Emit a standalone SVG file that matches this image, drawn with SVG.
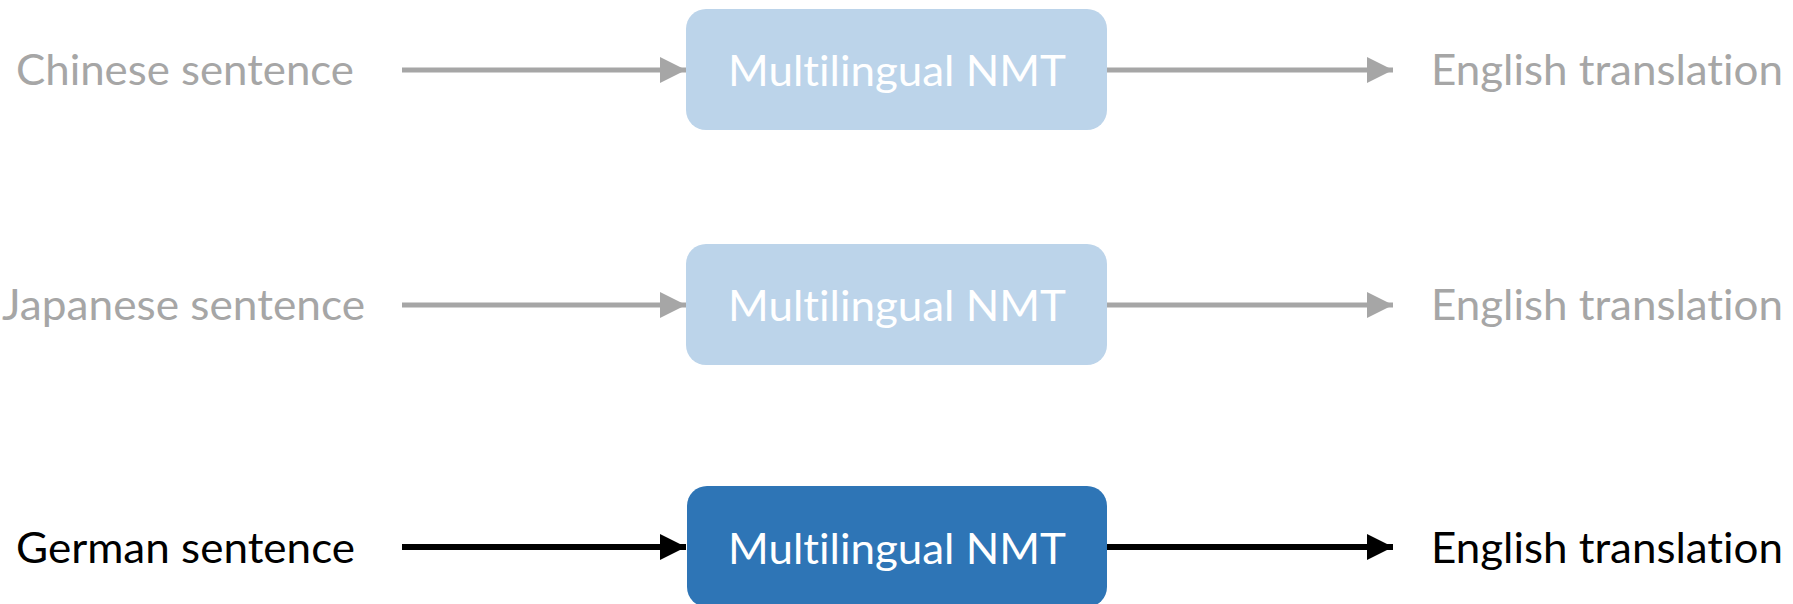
<svg xmlns="http://www.w3.org/2000/svg" width="1793" height="604" viewBox="0 0 1793 604">
  <defs>
    <style>
      .lbl { font-family: Lato, "Open Sans", "Liberation Sans", sans-serif; font-size: 43px; font-variant-ligatures: none; font-feature-settings: "liga" 0, "clig" 0; }
      .dim { fill: #a6a6a6; }
      .dark { fill: #000000; }
      .box-light { fill: #bcd4ea; }
      .box-dark { fill: #2e75b6; }
      .box-text { fill: #ffffff; text-anchor: middle; }
      .wire-gray { stroke: #a6a6a6; stroke-width: 5; fill: none; }
      .wire-black { stroke: #000000; stroke-width: 6; fill: none; }
    </style>
    <marker id="head-gray" markerUnits="userSpaceOnUse" markerWidth="28" markerHeight="26" refX="26" refY="13" orient="auto">
      <path d="M0,0 L26,13 L0,26 Z" fill="#a6a6a6"/>
    </marker>
    <marker id="head-black" markerUnits="userSpaceOnUse" markerWidth="28" markerHeight="26" refX="26" refY="13" orient="auto">
      <path d="M0,0 L26,13 L0,26 Z" fill="#000000"/>
    </marker>
  </defs>

  <rect width="1793" height="604" fill="#ffffff"/>

  <!-- connectors -->
  <g id="connectors">
    <line class="wire-gray" x1="402" y1="70" x2="686" y2="70" marker-end="url(#head-gray)"/>
    <line class="wire-gray" x1="1107" y1="70" x2="1393" y2="70" marker-end="url(#head-gray)"/>
    <line class="wire-gray" x1="402" y1="305" x2="686" y2="305" marker-end="url(#head-gray)"/>
    <line class="wire-gray" x1="1107" y1="305" x2="1393" y2="305" marker-end="url(#head-gray)"/>
    <line class="wire-black" x1="402" y1="547" x2="686" y2="547" marker-end="url(#head-black)"/>
    <line class="wire-black" x1="1107" y1="547" x2="1393" y2="547" marker-end="url(#head-black)"/>
  </g>

  <!-- row 1: Chinese -->
  <g id="src-zh">
    <text class="lbl dim" x="16" y="85" textLength="338" lengthAdjust="spacingAndGlyphs">Chinese sentence</text>
  </g>
  <g id="nmt-zh">
    <rect class="box-light" x="686" y="9" width="421" height="121" rx="20" ry="20"/>
    <text class="lbl box-text" x="897" y="86" textLength="338" lengthAdjust="spacingAndGlyphs">Multilingual NMT</text>
  </g>
  <g id="out-zh">
    <text class="lbl dim" x="1431" y="85" textLength="352" lengthAdjust="spacingAndGlyphs">English translation</text>
  </g>

  <!-- row 2: Japanese -->
  <g id="src-ja">
    <text class="lbl dim" x="2" y="320" textLength="363" lengthAdjust="spacingAndGlyphs">Japanese sentence</text>
  </g>
  <g id="nmt-ja">
    <rect class="box-light" x="686" y="244" width="421" height="121" rx="20" ry="20"/>
    <text class="lbl box-text" x="897" y="321" textLength="338" lengthAdjust="spacingAndGlyphs">Multilingual NMT</text>
  </g>
  <g id="out-ja">
    <text class="lbl dim" x="1431" y="320" textLength="352" lengthAdjust="spacingAndGlyphs">English translation</text>
  </g>

  <!-- row 3: German -->
  <g id="src-de">
    <text class="lbl dark" x="16" y="563" textLength="339" lengthAdjust="spacingAndGlyphs">German sentence</text>
  </g>
  <g id="nmt-de">
    <rect class="box-dark" x="687" y="486" width="420" height="121" rx="20" ry="20"/>
    <text class="lbl box-text" x="897" y="564" textLength="338" lengthAdjust="spacingAndGlyphs">Multilingual NMT</text>
  </g>
  <g id="out-de">
    <text class="lbl dark" x="1431" y="563" textLength="352" lengthAdjust="spacingAndGlyphs">English translation</text>
  </g>
</svg>
